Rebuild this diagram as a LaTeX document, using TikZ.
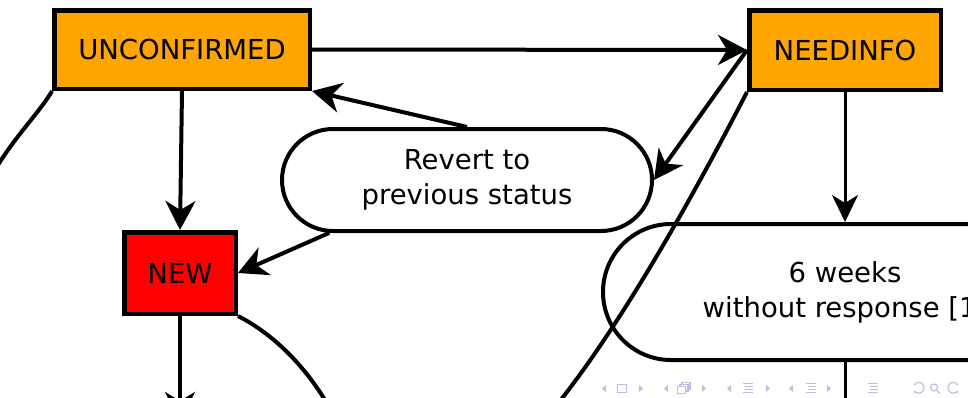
\documentclass[tikz,border=0pt]{standalone}
\usepackage{fontspec}
\setmainfont{DejaVu Sans}
\usetikzlibrary{arrows.meta,shapes.misc}
\definecolor{orangebox}{HTML}{FFA500}
\definecolor{redbox}{HTML}{FF0000}
\definecolor{navcol}{RGB}{190,190,228}
\begin{document}
\begin{tikzpicture}[x=1pt,y=1pt,
  lbl/.style={font=\fontsize{27.5}{35}\selectfont},
  box/.style={draw, line width=4.5pt, inner sep=0pt, lbl},
  pill/.style={draw, rounded rectangle, line width=4pt, inner sep=0pt, align=center, lbl},
  edge/.style={line width=4pt},
  arr/.style={line width=4pt, -{Stealth[length=29pt,width=30pt,inset=9pt]}},
  arrthin/.style={line width=3pt, -{Stealth[length=27pt,width=26pt,inset=8pt]}},
  thinedge/.style={line width=3pt},
  nav/.style={navcol, line width=1.2pt},
  navtri/.style={fill=navcol, draw=none}]
\useasboundingbox (0,0) rectangle (968,-397);
\clip (0,0) rectangle (968,-397);

\node[box, fill=orangebox, minimum width=255.5pt, minimum height=78.5pt] (unc) at (182,-49.5) {UNCONFIRMED};
\node[box, fill=orangebox, minimum width=191.5pt, minimum height=79.5pt] (need) at (845,-50) {NEEDINFO};
\node[box, fill=redbox, minimum width=111.5pt, minimum height=81.5pt] (new) at (180,-273) {NEW};
\node[pill, minimum width=370pt, minimum height=102pt] (rev) at (467,-180) {Revert to\\previous status};
\node[pill, minimum width=484pt, minimum height=136pt] (wk) at (845,-292) {6 weeks\\without response [1]};

\coordinate (c1) at (540,-425);
\coordinate (c2) at (-20,-200);
\coordinate (c3) at (180,-421);
\coordinate (c4) at (350,-450);
\coordinate (c5) at (845,-430);

\draw[arr] (unc.east) -- (need.west);
\draw[arr] (unc.south) -- (new.north);
\draw[arr] (rev.north) -- (unc.south east);
\draw[arr] (rev.201) -- (new.east);
\draw[arr] (need.west) -- (rev.east);
\draw[arrthin] (need.south) -- (wk.north);
\draw[edge] (need.south west) .. controls (697,-189) and (613,-342) .. (c1);
\draw[edge] (unc.south west) .. controls (38,-116) and (0,-150) .. (c2);
\draw[arr] (new.south) -- (c3);
\draw[edge] (new.south east) .. controls (275,-335) and (320,-375) .. (c4);
\draw[thinedge] (wk.south) -- (c5);

% beamer navigation symbols
\fill[navtri] (606,-385) -- (602,-388.5) -- (606,-392) -- cycle;
\draw[nav] (617.5,-384.5) rectangle (626.5,-392.5);
\fill[navtri] (639,-385) -- (643,-388.5) -- (639,-392) -- cycle;

\fill[navtri] (668,-385) -- (664,-388.5) -- (668,-392) -- cycle;
\draw[nav, fill=white] (682,-382.5) rectangle (690,-389);
\draw[nav, fill=white] (680,-384.5) rectangle (688,-391);
\draw[nav, fill=white] (677.5,-386.5) rectangle (685.5,-393.5);
\fill[navtri] (702,-385) -- (706,-388.5) -- (702,-392) -- cycle;

\fill[navtri] (731,-385) -- (727,-388.5) -- (731,-392) -- cycle;
\draw[nav] (743,-383.5) -- (753,-383.5);
\draw[nav] (745,-386.5) -- (753,-386.5);
\draw[nav] (745,-389.5) -- (753,-389.5);
\draw[nav] (743,-392.5) -- (753,-392.5);
\fill[navtri] (766,-385) -- (770,-388.5) -- (766,-392) -- cycle;

\fill[navtri] (793,-385) -- (789,-388.5) -- (793,-392) -- cycle;
\draw[nav] (806,-383.5) -- (816,-383.5);
\draw[nav] (808,-386.5) -- (816,-386.5);
\draw[nav] (808,-389.5) -- (816,-389.5);
\draw[nav] (806,-392.5) -- (816,-392.5);
\fill[navtri] (827,-385) -- (831,-388.5) -- (827,-392) -- cycle;

\draw[nav] (868,-383.5) -- (878,-383.5);
\draw[nav] (870,-386.5) -- (878,-386.5);
\draw[nav] (870,-389.5) -- (878,-389.5);
\draw[nav] (868,-392.5) -- (878,-392.5);

\draw[nav, -{Stealth[length=3pt,width=3.5pt]}] (914,-385) arc (150:-150:5.5) ;
\draw[nav] (934,-387.5) circle (3.5);
\draw[nav] (936.5,-390) -- (940,-393.5);
\draw[nav, -{Stealth[length=3pt,width=3.5pt]}] (958,-385) arc (30:330:5.5);
\end{tikzpicture}
\end{document}
